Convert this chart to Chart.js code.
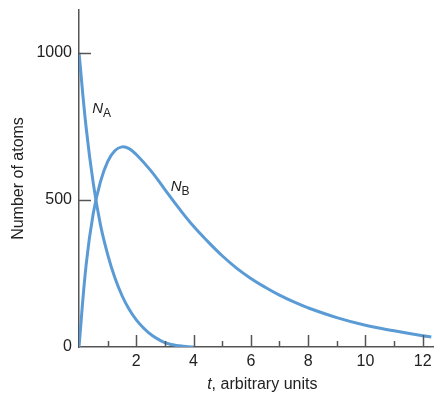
<!DOCTYPE html>
<html>
<head>
<meta charset="utf-8">
<script src="https://cdn.jsdelivr.net/npm/chart.js@4.4.0/dist/chart.umd.min.js"></script>
<style>
    html, body { margin: 0; padding: 0; background: #fff; }
    #wrap { width: 441px; height: 394px; position: relative; }
</style>
</head>
<body>
<div id="wrap"><canvas id="decayChart"></canvas></div>
<script>
// valores
const tA = [0, 0.25, 0.5, 0.75, 1, 1.25, 1.5, 1.75, 2, 2.25, 2.5, 3, 3.5, 4];
const nA = [1000, 745, 555, 415, 315, 236, 175, 128, 92, 65, 43, 15, 4, 0];

const tB = [0, 0.25, 0.5, 0.75, 1, 1.25, 1.5, 1.75, 2, 2.5, 3, 3.5, 4, 4.5, 5, 5.5, 6, 6.5, 7, 7.5, 8, 9, 10, 11, 12, 12.3];
const nB = [0, 280, 455, 562, 630, 667, 680, 674, 654, 600, 535, 470, 410, 358, 310, 268, 233, 203, 176, 153, 133, 100, 74, 55, 38, 34];

const yTicks = [0, 500, 1000];
const xTicks = [1, 2, 3, 4, 5, 6, 7, 8, 9, 10, 11, 12];
const xLabelled = [2, 4, 6, 8, 10, 12];

const LINE_COLOR = '#5b9bd5';
const AXIS_COLOR = '#555555';
const TEXT_COLOR = '#222222';
const FONT = '"Liberation Sans", Arial, sans-serif';

function toPoints(xs, ys) {
    return xs.map((x, i) => ({ x: x, y: ys[i] }));
}

// --- Plugin para marcas internas dos eixos, título do eixo x e rótulos N_A / N_B ---
const decorPlugin = {
    id: 'decor',
    afterDraw(chart) {
        const ctx = chart.ctx;
        const xs = chart.scales.x;
        const ys = chart.scales.y;
        const area = chart.chartArea;

        ctx.save();
        ctx.strokeStyle = AXIS_COLOR;
        ctx.lineWidth = 1.5;

        // marcas no eixo x (maiores nos pares)
        xTicks.forEach(v => {
            const px = Math.round(xs.getPixelForValue(v)) + 0.5;
            const len = xLabelled.includes(v) ? 12 : 6;
            ctx.beginPath();
            ctx.moveTo(px, area.bottom);
            ctx.lineTo(px, area.bottom - len);
            ctx.stroke();
        });

        // marcas no eixo y
        yTicks.forEach(v => {
            if (v <= 0) return;
            const py = Math.round(ys.getPixelForValue(v)) + 0.5;
            ctx.beginPath();
            ctx.moveTo(area.left, py);
            ctx.lineTo(area.left + 12, py);
            ctx.stroke();
        });

        // título do eixo x com "t" em itálico
        ctx.fillStyle = TEXT_COLOR;
        ctx.textBaseline = 'middle';
        const italic = 'italic 16px ' + FONT;
        const normal = '16px ' + FONT;
        ctx.font = italic;
        const wT = ctx.measureText('t').width;
        ctx.font = normal;
        const rest = ', arbitrary units';
        const wR = ctx.measureText(rest).width;
        const cx = xs.getPixelForValue(6.4);
        const ty = 385;
        const sx = cx - (wT + wR) / 2;
        ctx.textAlign = 'left';
        ctx.font = italic;
        ctx.fillText('t', sx, ty);
        ctx.font = normal;
        ctx.fillText(rest, sx + wT, ty);

        // rótulos das curvas
        function curveLabel(sub, tx, vy) {
            const px = xs.getPixelForValue(tx);
            const py = ys.getPixelForValue(vy);
            ctx.textAlign = 'left';
            ctx.textBaseline = 'alphabetic';
            ctx.font = 'italic 15px ' + FONT;
            ctx.fillText('N', px, py);
            const w = ctx.measureText('N').width;
            ctx.font = '12px ' + FONT;
            ctx.fillText(sub, px + w, py + 4);
        }
        curveLabel('A', 0.46, 795);
        curveLabel('B', 3.2, 530);

        ctx.restore();
    }
};

const ctx = document.getElementById('decayChart').getContext('2d');
new Chart(ctx, {
    type: 'line',
    data: {
        datasets: [
            {
                label: 'NA',
                data: toPoints(tA, nA),
                borderColor: LINE_COLOR,
                borderWidth: 3,
                pointRadius: 0,
                tension: 0.4,
                fill: false
            },
            {
                label: 'NB',
                data: toPoints(tB, nB),
                borderColor: LINE_COLOR,
                borderWidth: 3,
                pointRadius: 0,
                tension: 0.4,
                fill: false
            }
        ]
    },
    options: {
        responsive: true,
        maintainAspectRatio: false,
        animation: false,
        layout: { padding: { top: 10, right: 8, left: 0, bottom: 0 } },
        plugins: {
            legend: { display: false },
            tooltip: { enabled: false }
        },
        scales: {
            x: {
                type: 'linear',
                min: 0,
                max: 12.36,
                grid: { display: false, drawTicks: false },
                border: { display: true, color: AXIS_COLOR, width: 1.5 },
                afterBuildTicks: (s) => { s.ticks = xTicks.map(v => ({ value: v })); },
                ticks: {
                    autoSkip: false,
                    maxRotation: 0,
                    padding: 5,
                    color: TEXT_COLOR,
                    font: { family: FONT, size: 16 },
                    callback: (v) => xLabelled.includes(v) ? String(v) : ''
                },
                afterFit: (s) => { s.height = 47; s.paddingLeft = 0; s.paddingRight = 0; }
            },
            y: {
                type: 'linear',
                min: 0,
                max: 1145,
                grid: { display: false, drawTicks: false },
                border: { display: true, color: AXIS_COLOR, width: 1.5 },
                afterBuildTicks: (s) => { s.ticks = yTicks.map(v => ({ value: v })); },
                ticks: {
                    autoSkip: false,
                    padding: 7,
                    color: TEXT_COLOR,
                    font: { family: FONT, size: 16 },
                    callback: (v) => String(v)
                },
                title: {
                    display: true,
                    text: 'Number of atoms',
                    color: TEXT_COLOR,
                    font: { family: FONT, size: 16 },
                    padding: { top: 9, bottom: 0 }
                },
                afterFit: (s) => { s.width = 79; s.paddingTop = 0; s.paddingBottom = 0; }
            }
        }
    },
    plugins: [decorPlugin]
});
</script>
</body>
</html>
